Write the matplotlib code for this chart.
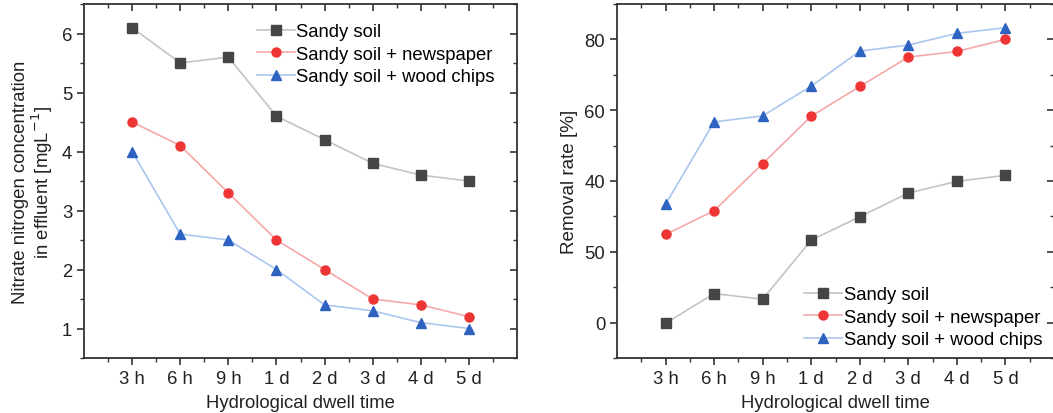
import matplotlib
matplotlib.use("Agg")
import matplotlib.pyplot as plt
from matplotlib.ticker import MultipleLocator, FixedLocator

plt.rcParams['font.family'] = ['Liberation Sans', 'DejaVu Sans']

categories = ["3 h", "6 h", "9 h", "1 d", "2 d", "3 d", "4 d", "5 d"]
series_names = ["Sandy soil", "Sandy soil + newspaper", "Sandy soil + wood chips"]

conc_sandy = [6.1, 5.5, 5.6, 4.6, 4.2, 3.8, 3.6, 3.5]
conc_news = [4.5, 4.1, 3.3, 2.5, 2.0, 1.5, 1.4, 1.2]
conc_wood = [4.0, 2.6, 2.5, 2.0, 1.4, 1.3, 1.1, 1.0]

rem_sandy = [-0.2, 8.2, 6.6, 23.3, 29.9, 36.6, 39.9, 41.6]
rem_news = [24.9, 31.6, 44.9, 58.3, 66.7, 75.0, 76.6, 80.0]
rem_wood = [33.4, 56.7, 58.4, 66.8, 76.7, 78.4, 81.7, 83.3]

left_yticks = [1, 2, 3, 4, 5, 6]
right_yticks = [0, 20, 40, 60, 80]
right_yticklabels = ["0", "50", "40", "60", "80"]

line_colors = ["#c4c4c4", "#f5a8a8", "#aac6ee"]
marker_colors = ["#454545", "#ee3535", "#2f63c2"]
markers = ["s", "o", "^"]

FS = 13.3

W, H = 1053, 414
fig = plt.figure(figsize=(W / 100, H / 100), dpi=100)

ax1 = fig.add_axes([84 / W, (H - 359) / H, (517 - 84) / W, (359 - 5) / H])
ax2 = fig.add_axes([617 / W, (H - 359) / H, (1054 - 617) / W, (359 - 5) / H])

x = list(range(1, len(categories) + 1))

def style(ax, ylim, yticks, yminor):
    ax.set_xlim(0, 9)
    ax.set_ylim(*ylim)
    ax.set_xticks(x)
    ax.set_xticklabels(categories)
    ax.xaxis.set_minor_locator(FixedLocator([i + 0.5 for i in range(0, 9)]))
    ax.set_yticks(yticks)
    ax.yaxis.set_minor_locator(MultipleLocator(yminor))
    for s in ax.spines.values():
        s.set_color("#333333")
        s.set_linewidth(1.3)
    ax.tick_params(axis='both', which='major', direction='out', length=5, width=1.2,
                   labelsize=FS, colors="#333333", labelcolor="#222222")
    ax.tick_params(axis='both', which='minor', direction='out', length=3, width=1.0, colors="#333333")
    ax.tick_params(axis='x', which='both', top=True)
    ax.tick_params(axis='x', which='major', pad=3.5)
    ax.tick_params(axis='y', which='both', right=True)
    ax.set_xlabel("Hydrological dwell time", fontsize=FS, color="#222222", labelpad=5)
    for t in ax.yaxis.get_major_ticks() + ax.yaxis.get_minor_ticks():
        t.tick2line.set_marker(matplotlib.lines.TICKLEFT)
    for t in ax.xaxis.get_major_ticks() + ax.xaxis.get_minor_ticks():
        t.tick2line.set_marker(matplotlib.lines.TICKDOWN)

def draw(ax, ys):
    for y, lc, mc, m, name in zip(ys, line_colors, marker_colors, markers, series_names):
        ax.plot(x, y, color=lc, lw=1.2, marker=m, markersize=6.5,
                markerfacecolor=mc, markeredgecolor=mc, label=name)

# Left panel
draw(ax1, [conc_sandy, conc_news, conc_wood])
style(ax1, (0.5, 6.5), left_yticks, 0.5)
ax1.set_ylabel("Nitrate nitrogen concentration\nin effluent [mgL$^{-1}$]", fontsize=13.4,
               color="#222222", labelpad=5, linespacing=1.0)
ax1.legend(loc='upper left', bbox_to_anchor=(0.354, 1.0), frameon=False, fontsize=FS,
           handlelength=2.05, handletextpad=0.1, labelspacing=0.3, borderaxespad=0.65)

# Right panel
draw(ax2, [rem_sandy, rem_news, rem_wood])
style(ax2, (-10, 90), right_yticks, 10)
ax2.set_yticklabels(right_yticklabels)
ax2.set_ylabel("Removal rate [%]", fontsize=13.6, color="#222222", labelpad=5)
ax2.legend(loc='lower left', bbox_to_anchor=(0.407, 0.0), frameon=False, fontsize=FS,
           handlelength=2.05, handletextpad=0.1, labelspacing=0.3, borderaxespad=0.12)

fig.savefig("out.png", dpi=100)
